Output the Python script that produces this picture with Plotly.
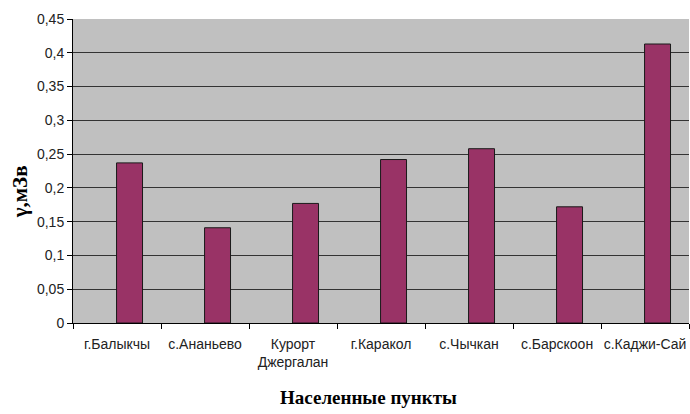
import plotly.graph_objects as go

# Settlements and measured gamma dose values (mSv)
settlements = ["г.Балыкчы", "с.Ананьево", "Курорт<br>Джергалан", "г.Каракол",
               "с.Чычкан", "с.Барскоон", "с.Каджи-Сай"]
dose = [0.237, 0.141, 0.177, 0.242, 0.258, 0.172, 0.413]

y_tick_vals = [0, 0.05, 0.1, 0.15, 0.2, 0.25, 0.3, 0.35, 0.4, 0.45]
y_tick_text = ["0", "0,05", "0,1", "0,15", "0,2", "0,25", "0,3", "0,35", "0,4", "0,45"]

tick_font = dict(family="Liberation Sans, Arial, sans-serif", size=14, color="#222222")
title_font = dict(family="Liberation Serif, Times New Roman, serif", size=19, color="#000000")

fig = go.Figure(
    go.Bar(
        x=settlements,
        y=dose,
        width=0.295,
        offset=-0.005,
        marker=dict(color="#993366", line=dict(color="#1a1a1a", width=1)),
    )
)

fig.update_layout(
    width=690,
    height=414,
    margin=dict(l=73, r=1, t=19, b=91),
    paper_bgcolor="#FFFFFF",
    plot_bgcolor="#C0C0C0",
    showlegend=False,
    annotations=[
        dict(text="<b>Населенные пункты</b>", xref="paper", yref="paper",
             x=0.48, y=-0.245, xanchor="center", yanchor="middle",
             showarrow=False, font=title_font),
        dict(text="<b>γ,мЗв</b>", xref="paper", yref="paper",
             x=-0.086, y=0.43, xanchor="center", yanchor="middle",
             textangle=-90, showarrow=False,
             font=dict(family=title_font["family"], size=21, color="#000000")),
    ],
)

fig.update_xaxes(
    type="category",
    showline=True, linecolor="#000000", linewidth=1,
    ticks="outside", tickson="boundaries", ticklen=5, tickcolor="#000000",
    tickfont=tick_font, ticklabelstandoff=8, tickangle=0, automargin=False,
    showgrid=False, zeroline=False,
)

fig.update_yaxes(
    range=[0, 0.45],
    tickvals=y_tick_vals, ticktext=y_tick_text,
    showline=True, linecolor="#000000", linewidth=1,
    ticks="outside", ticklen=5, tickcolor="#000000",
    tickfont=tick_font, automargin=False,
    showgrid=True, gridcolor="#333333", gridwidth=1,
    zeroline=False,
)

fig.write_html("out.html")
